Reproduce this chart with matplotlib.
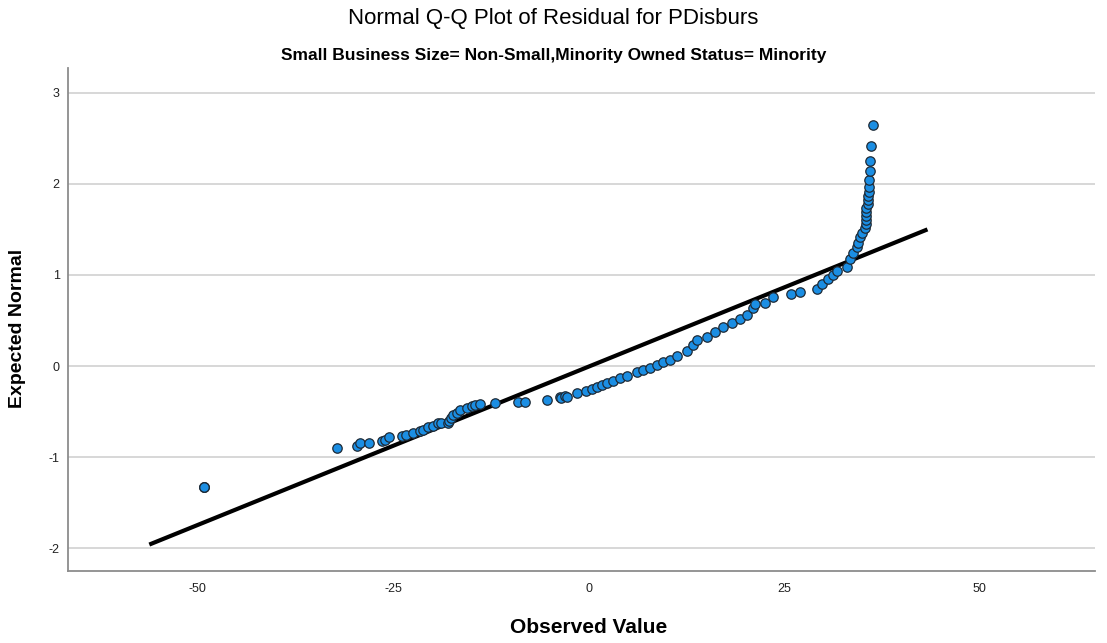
import matplotlib.pyplot as plt

# observed residuals and expected normal values
obs = [
    -49.2, -49.2, -49.2,
    -32.2, -29.7, -29.3, -28.1, -26.5, -26.1, -25.6, -23.9, -23.4, -22.5,
    -21.6, -21.2, -20.6, -19.9, -19.3, -18.9, -18.0, -17.9, -17.6, -17.4,
    -16.9, -16.5, -15.6, -15.0, -14.5, -13.9, -12.0, -9.0, -8.1, -5.4,
    -3.7, -3.5, -3.1, -2.8, -1.5, -0.3, 0.4, 1.0, 1.7, 2.3, 3.1, 4.0, 4.9,
    6.1, 6.9, 7.8, 8.7, 9.5, 10.4, 11.3, 12.5, 13.3, 13.8, 15.1, 16.1,
    17.1, 18.3, 19.3, 20.2, 21.0, 21.2, 22.5, 23.5, 25.8, 27.0, 29.2,
    29.8, 30.6, 31.2, 31.7, 33.0, 33.4, 33.8, 34.3, 34.4, 34.7, 34.9,
    35.3, 35.4, 35.4, 35.5, 35.5, 35.5, 35.7, 35.7, 35.7, 35.8, 35.8,
    35.8, 35.9, 35.9, 36.1, 36.3,
]
expected = [
    -1.33, -1.33, -1.33,
    -0.90, -0.88, -0.85, -0.84, -0.82, -0.81, -0.78, -0.77, -0.76, -0.73,
    -0.71, -0.70, -0.67, -0.66, -0.63, -0.62, -0.63, -0.60, -0.57, -0.54,
    -0.52, -0.48, -0.46, -0.44, -0.43, -0.42, -0.41, -0.40, -0.40, -0.37,
    -0.34, -0.35, -0.33, -0.34, -0.30, -0.27, -0.25, -0.23, -0.21, -0.19,
    -0.16, -0.13, -0.11, -0.07, -0.04, -0.02, 0.01, 0.04, 0.07, 0.11,
    0.16, 0.23, 0.29, 0.32, 0.37, 0.43, 0.47, 0.52, 0.56, 0.64, 0.68,
    0.69, 0.76, 0.79, 0.81, 0.85, 0.90, 0.96, 1.00, 1.04, 1.09, 1.18,
    1.24, 1.31, 1.35, 1.42, 1.46, 1.52, 1.56, 1.60, 1.65, 1.69, 1.74,
    1.78, 1.82, 1.87, 1.91, 1.97, 2.04, 2.14, 2.25, 2.41, 2.65,
]

# reference line end points
line_x = [-56.2, 43.3]
line_y = [-1.96, 1.50]

x_ticks = [-50, -25, 0, 25, 50]
y_ticks = [-2, -1, 0, 1, 2, 3]

plt.rcParams['font.family'] = ['Liberation Sans', 'DejaVu Sans']
plt.rcParams['axes.unicode_minus'] = False

fig = plt.figure(figsize=(11.07, 6.43), dpi=100)
ax = fig.add_axes([0.0614, 0.112, 0.9276, 0.782])

for y in y_ticks:
    ax.axhline(y, color='#d4d4d4', linewidth=1.3, zorder=0)

ax.plot(line_x, line_y, color='black', linewidth=3, zorder=2, solid_capstyle='butt')
ax.scatter(obs, expected, s=46, color='#1b8ee3', edgecolors='#1e2a36',
           linewidths=0.9, zorder=3)

ax.set_xlim(-66.6, 64.7)
ax.set_ylim(-2.25, 3.27)
ax.set_xticks(x_ticks)
ax.set_yticks(y_ticks)
ax.tick_params(length=0, labelsize=9, colors='#222222')
ax.tick_params(axis='x', pad=9)
ax.tick_params(axis='y', pad=6)

for side in ['top', 'right']:
    ax.spines[side].set_visible(False)
for side in ['left', 'bottom']:
    ax.spines[side].set_color('#8c8c8c')
    ax.spines[side].set_linewidth(1.3)

ax.set_xlabel('Observed Value', fontsize=15, fontweight='bold', va='center')
ax.xaxis.set_label_coords(0.507, -0.113)
ax.set_ylabel('Expected Normal', fontsize=14, fontweight='bold', va='center')
ax.yaxis.set_label_coords(-0.0487, 0.483)

fig.text(0.5, 0.971, 'Normal Q-Q Plot of Residual for PDisburs',
         ha='center', va='center', fontsize=16)
fig.text(0.5, 0.913, 'Small Business Size= Non-Small,Minority Owned Status= Minority',
         ha='center', va='center', fontsize=12.5, fontweight='bold')

fig.savefig('out.png', dpi=100)
